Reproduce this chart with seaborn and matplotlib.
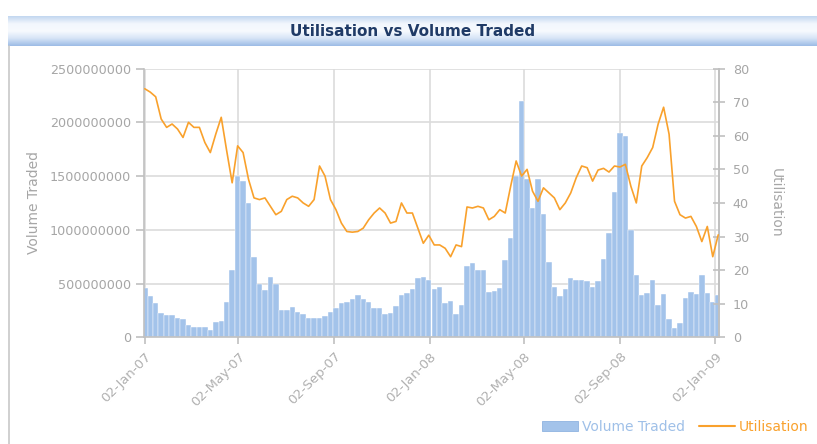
import numpy as np
import pandas as pd
import matplotlib
matplotlib.use('Agg')
import matplotlib.pyplot as plt
import matplotlib.dates as mdates
from matplotlib.colors import LinearSegmentedColormap
from matplotlib.patches import Patch
from matplotlib.lines import Line2D
import seaborn as sns

# weekly observations, 02-Jan-07 .. 06-Jan-09
dates = pd.date_range('2007-01-02', periods=106, freq='7D')

# volume traded, billions
volume_bn = [
    0.46, 0.38, 0.32, 0.23, 0.21, 0.21, 0.18, 0.17, 0.115, 0.10,
    0.10, 0.095, 0.07, 0.14, 0.15, 0.33, 0.63, 1.50, 1.45, 1.25,
    0.75, 0.50, 0.44, 0.56, 0.50, 0.25, 0.25, 0.285, 0.24, 0.22,
    0.18, 0.18, 0.18, 0.20, 0.24, 0.27, 0.32, 0.33, 0.36, 0.39,
    0.36, 0.33, 0.27, 0.27, 0.22, 0.23, 0.29, 0.39, 0.41, 0.45,
    0.55, 0.56, 0.53, 0.45, 0.47, 0.32, 0.34, 0.22, 0.30, 0.66,
    0.69, 0.63, 0.63, 0.42, 0.43, 0.46, 0.72, 0.92, 1.50, 2.20,
    1.47, 1.20, 1.47, 1.15, 0.70, 0.47, 0.38, 0.45, 0.55, 0.53,
    0.53, 0.52, 0.47, 0.52, 0.73, 0.97, 1.35, 1.90, 1.87, 1.00,
    0.58, 0.39, 0.41, 0.53, 0.30, 0.40, 0.17, 0.09, 0.13, 0.37,
    0.42, 0.40, 0.58, 0.41, 0.33, 0.39,
]

utilisation = [
    74, 73, 71.6, 65, 62.5, 63.5, 62, 59.5, 64, 62.5,
    62.5, 58, 55, 60.5, 65.5, 55.5, 46, 57, 55, 47,
    41.5, 41, 41.5, 39, 36.5, 37.5, 41, 42, 41.5, 40,
    39, 41, 51, 48, 41, 38, 34, 31.5, 31.3, 31.5,
    32.5, 35, 37, 38.5, 37, 34, 34.5, 40, 37, 37,
    32.5, 28, 30.4, 27.5, 27.5, 26.5, 24, 27.5, 27, 38.8,
    38.5, 39, 38.5, 35, 36, 38, 37, 45, 52.5, 48,
    50, 43.5, 40.5, 44.5, 43, 41.5, 38, 40, 43, 47.5,
    51, 50.5, 46.5, 49.8, 50.3, 49.2, 51, 50.7, 51.5, 45,
    40, 51, 53.5, 56.5, 63.5, 68.5, 60.5, 40.5, 36.5, 35.5,
    36, 33, 28.5, 33, 24, 30.5,
]

date_ticks = pd.to_datetime(['2007-01-02', '2007-05-02', '2007-09-02', '2008-01-02',
                             '2008-05-02', '2008-09-02', '2009-01-02'])

df = pd.DataFrame({'date': dates,
                   'volume': np.array(volume_bn) * 1e9,
                   'utilisation': utilisation})

bar_color = '#a3c3ea'
line_color = '#f9a12c'
grey = '#a6a6a6'

sns.set_theme(style='white')
plt.rcParams['font.family'] = ['DejaVu Sans']

fig = plt.figure(figsize=(8.17, 4.44), dpi=100)

# title band
band = fig.add_axes([0.010, 1 - 46 / 444, 0.990, 30 / 444])
cmap = LinearSegmentedColormap.from_list('band', ['#9dbce6', '#d6e4f6', '#f7fafe', '#f2f7fd', '#c3d7f0'])
band.imshow(np.linspace(0, 1, 64).reshape(-1, 1), aspect='auto', cmap=cmap,
            extent=[0, 1, 0, 1], origin='lower')
band.set_axis_off()
band.text(0.5, 0.48, 'Utilisation vs Volume Traded', ha='center', va='center',
          fontsize=11, fontweight='bold', color='#1f3a66', transform=band.transAxes)

# left frame line
fig.add_artist(Line2D([9 / 817, 9 / 817], [0, 1 - 46 / 444], color='#c8c8c8', lw=1.2))

ax = fig.add_axes([144 / 817, 1 - 337.3 / 444, (719 - 144) / 817, (337.3 - 68.6) / 444])
ax.bar(df['date'], df['volume'], width=7, color=bar_color, edgecolor='white',
       linewidth=0.3, zorder=2)
ax.set_ylim(0, 2.5e9)
ax.set_yticks(np.arange(0, 2.5e9 + 1, 5e8))
ax.ticklabel_format(style='plain', axis='y', useOffset=False)
ax.set_xlim(pd.Timestamp('2007-01-01'), pd.Timestamp('2009-01-07'))
ax.set_xticks(date_ticks)
ax.xaxis.set_major_formatter(mdates.DateFormatter('%d-%b-%y'))
ax.set_axisbelow(True)
ax.grid(True, color='#dcdcdc', lw=1.2)
ax.spines['top'].set_visible(False)
for s in ['left', 'bottom', 'right']:
    ax.spines[s].set_color('#c0c0c0')
    ax.spines[s].set_linewidth(1.2)
ax.tick_params(axis='y', colors='#c0c0c0', labelcolor=grey, labelsize=9.2,
               direction='out', length=6, width=1.2, left=True)
ax.tick_params(axis='x', colors='#c0c0c0', labelcolor='#b0b0b0', labelsize=9.5,
               direction='out', length=5, width=1.2, bottom=True, pad=4)
plt.setp(ax.get_xticklabels(), rotation=45, ha='right', rotation_mode='anchor')
ax.set_ylabel('Volume Traded', color=grey, fontsize=10, labelpad=6)
ax.set_xlabel('')

ax2 = ax.twinx()
sns.lineplot(data=df, x='date', y='utilisation', ax=ax2, color=line_color, lw=1.2,
             zorder=3)
ax2.set_ylim(0, 80)
ax2.set_yticks(np.arange(0, 81, 10))
ax2.set_xlim(ax.get_xlim())
for s in ['top', 'left', 'bottom']:
    ax2.spines[s].set_visible(False)
ax2.spines['right'].set_color('#c0c0c0')
ax2.spines['right'].set_linewidth(1.2)
ax2.tick_params(axis='y', colors='#c0c0c0', labelcolor=grey, labelsize=9.2,
                direction='inout', length=8, width=1.2, right=True, pad=6)
ax2.set_ylabel('Utilisation', color=grey, fontsize=10, rotation=270, labelpad=24)
ax2.set_xlabel('')

handles = [Patch(facecolor=bar_color, edgecolor='#8fb3e0', lw=0.6),
           Line2D([0], [0], color=line_color, lw=1.5)]
leg = fig.legend(handles, ['Volume Traded', 'Utilisation'], loc='center right',
                 bbox_to_anchor=(1.005, 1 - 427 / 444), ncol=2, frameon=False,
                 fontsize=10, handlelength=2.6, handletextpad=0.3, columnspacing=1.0)
for txt, c in zip(leg.get_texts(), ['#9fc0e8', line_color]):
    txt.set_color(c)

fig.savefig('out.png', dpi=100)
